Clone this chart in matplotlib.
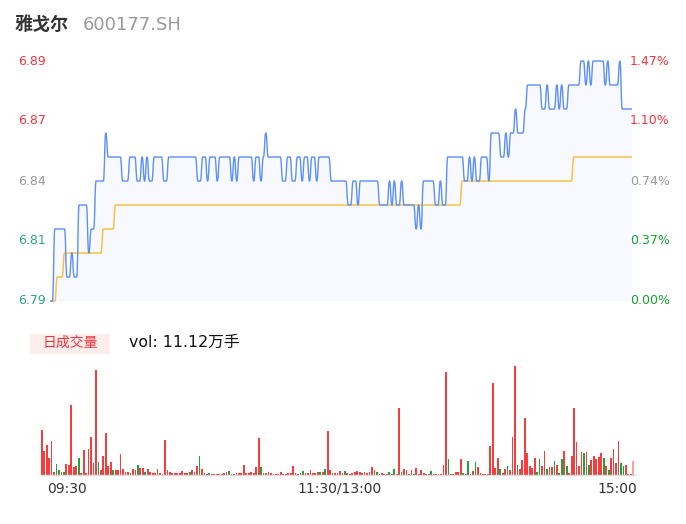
import numpy as np
import matplotlib
matplotlib.use("Agg")
import matplotlib.pyplot as plt
from matplotlib.path import Path
from matplotlib.patches import PathPatch

plt.rcParams['font.family'] = ['DejaVu Sans', 'Noto Sans CJK SC']

# 分时数据 (09:30-11:30, 13:01-15:00, 241 minutes)
prev_close = 6.79
price = [
    6.79, 6.79, 6.82, 6.82, 6.82, 6.82, 6.82, 6.80, 6.80, 6.81,
    6.80, 6.80, 6.83, 6.83, 6.83, 6.83, 6.81, 6.82, 6.82, 6.84,
    6.84, 6.84, 6.84, 6.86, 6.85, 6.85, 6.85, 6.85, 6.85, 6.85,
    6.84, 6.84, 6.84, 6.85, 6.85, 6.85, 6.84, 6.84, 6.85, 6.84,
    6.85, 6.84, 6.84, 6.85, 6.85, 6.85, 6.85, 6.84, 6.84, 6.85,
    6.85, 6.85, 6.85, 6.85, 6.85, 6.85, 6.85, 6.85, 6.85, 6.85,
    6.85, 6.84, 6.84, 6.85, 6.85, 6.84, 6.85, 6.85, 6.85, 6.84,
    6.85, 6.85, 6.85, 6.85, 6.85, 6.84, 6.85, 6.84, 6.85, 6.85,
    6.85, 6.85, 6.85, 6.85, 6.84, 6.85, 6.85, 6.84, 6.85, 6.86,
    6.85, 6.85, 6.85, 6.85, 6.85, 6.85, 6.84, 6.84, 6.85, 6.85,
    6.84, 6.84, 6.85, 6.85, 6.84, 6.85, 6.85, 6.84, 6.85, 6.85,
    6.84, 6.85, 6.85, 6.85, 6.85, 6.85, 6.84, 6.84, 6.84, 6.84,
    6.84, 6.84, 6.84, 6.83, 6.83, 6.84, 6.84, 6.83, 6.84, 6.84,
    6.84, 6.84, 6.84, 6.84, 6.84, 6.84, 6.83, 6.83, 6.83, 6.83,
    6.84, 6.83, 6.84, 6.83, 6.83, 6.84, 6.83, 6.83, 6.83, 6.83,
    6.83, 6.82, 6.83, 6.82, 6.84, 6.84, 6.84, 6.84, 6.84, 6.83,
    6.83, 6.84, 6.83, 6.83, 6.85, 6.85, 6.85, 6.85, 6.85, 6.85,
    6.85, 6.84, 6.84, 6.85, 6.84, 6.85, 6.84, 6.84, 6.85, 6.85,
    6.85, 6.84, 6.86, 6.86, 6.86, 6.86, 6.85, 6.85, 6.86, 6.85,
    6.86, 6.86, 6.87, 6.86, 6.86, 6.86, 6.87, 6.88, 6.88, 6.88,
    6.88, 6.88, 6.88, 6.87, 6.87, 6.88, 6.87, 6.87, 6.87, 6.88,
    6.87, 6.88, 6.87, 6.87, 6.88, 6.88, 6.88, 6.88, 6.88, 6.89,
    6.89, 6.88, 6.89, 6.88, 6.89, 6.89, 6.89, 6.89, 6.89, 6.88,
    6.89, 6.88, 6.88, 6.88, 6.88, 6.89, 6.87, 6.87, 6.87, 6.87,
    6.87,
]

# 均价 (runs of equal value)
avg_levels = [6.79, 6.80, 6.81, 6.82, 6.83, 6.84, 6.85]
avg_counts = [3, 3, 16, 5, 143, 46, 25]

# 成交量 (手) and colour flag: 1 up, 0 down, 2 last
vol = [
    1980, 1056, 1320, 748, 1496, 132, 484, 220, 132, 132,
    484, 440, 3080, 352, 396, 748, 88, 1100, 88, 1144,
    1672, 528, 4620, 572, 220, 836, 1848, 396, 572, 220,
    220, 220, 924, 264, 132, 132, 88, 264, 220, 440,
    308, 308, 132, 264, 132, 88, 88, 264, 88, 44,
    1540, 220, 132, 88, 88, 88, 88, 176, 88, 88,
    132, 220, 132, 396, 836, 264, 88, 44, 88, 44,
    44, 44, 44, 44, 88, 132, 176, 44, 44, 88,
    88, 88, 440, 88, 88, 132, 88, 352, 1628, 352,
    88, 88, 132, 88, 44, 44, 44, 132, 44, 44,
    88, 88, 396, 88, 44, 88, 176, 88, 88, 220,
    88, 88, 132, 132, 132, 264, 1936, 220, 88, 88,
    88, 176, 88, 176, 88, 44, 88, 132, 176, 132,
    88, 132, 88, 132, 352, 220, 132, 44, 88, 44,
    44, 132, 44, 264, 44, 2948, 132, 264, 220, 44,
    220, 44, 308, 44, 220, 88, 44, 44, 176, 44,
    44, 44, 44, 440, 4532, 704, 44, 44, 132, 132,
    704, 88, 44, 616, 44, 176, 572, 352, 88, 44,
    44, 44, 1276, 4048, 308, 748, 264, 88, 264, 396,
    220, 1672, 4796, 440, 264, 660, 2508, 968, 396, 308,
    748, 132, 704, 396, 1056, 264, 352, 352, 616, 440,
    88, 704, 1056, 396, 88, 836, 2948, 1452, 396, 1012,
    968, 1012, 440, 660, 836, 704, 792, 968, 748, 396,
    220, 748, 1144, 528, 1496, 528, 396, 440, 44, 44,
    616,
]
up = [
    1, 1, 1, 1, 1, 1, 0, 0, 1, 0,
    1, 1, 1, 1, 1, 0, 1, 1, 1, 1,
    1, 1, 1, 0, 1, 1, 1, 1, 1, 0,
    1, 1, 1, 1, 1, 1, 0, 1, 1, 0,
    1, 1, 0, 1, 1, 1, 1, 1, 1, 1,
    1, 1, 1, 1, 1, 1, 1, 1, 1, 1,
    0, 1, 1, 1, 0, 1, 1, 1, 0, 1,
    1, 1, 1, 1, 1, 1, 0, 1, 1, 1,
    1, 1, 1, 1, 1, 1, 1, 1, 1, 0,
    1, 1, 1, 1, 1, 1, 1, 1, 1, 1,
    1, 1, 1, 1, 1, 1, 0, 1, 1, 1,
    1, 1, 1, 0, 1, 0, 1, 1, 1, 1,
    1, 1, 1, 0, 1, 1, 1, 1, 1, 1,
    1, 1, 1, 1, 1, 1, 0, 1, 1, 1,
    1, 0, 1, 0, 1, 1, 0, 1, 1, 1,
    1, 0, 1, 1, 1, 1, 1, 1, 0, 1,
    1, 1, 1, 1, 1, 0, 1, 1, 1, 1,
    1, 0, 1, 0, 1, 1, 0, 1, 1, 1,
    1, 0, 1, 1, 1, 1, 0, 1, 1, 0,
    1, 1, 1, 0, 1, 1, 1, 1, 1, 1,
    1, 0, 0, 1, 1, 0, 1, 1, 0, 1,
    0, 0, 1, 0, 1, 1, 1, 1, 1, 1,
    0, 1, 0, 1, 1, 1, 1, 1, 0, 1,
    0, 1, 1, 1, 1, 0, 0, 1, 1, 1,
    2,
]

y_ticks = [6.79, 6.815, 6.84, 6.865, 6.89]
y_labels = ['6.79', '6.81', '6.84', '6.87', '6.89']
pct_labels = ['0.00%', '0.37%', '0.74%', '1.10%', '1.47%']
tick_colors = ['#2aa57d', '#2aa57d', '#999999', '#f5333f', '#f5333f']
pct_colors = ['#16a02f', '#16a02f', '#999999', '#f5333f', '#f5333f']
time_labels = ['09:30', '11:30/13:00', '15:00']

W, H = 686, 524
fig = plt.figure(figsize=(W / 100, H / 100), dpi=100)


def box(x0, y0, x1, y1):
    return [x0 / W, 1 - y1 / H, (x1 - x0) / W, (y1 - y0) / H]


def smooth(xs, ys, s=0.5):
    # cubic segments with flat tangents, like a smoothed echarts line
    verts = [(xs[0], ys[0])]
    codes = [Path.MOVETO]
    for i in range(len(xs) - 1):
        dx = xs[i + 1] - xs[i]
        verts += [(xs[i] + s * dx, ys[i]), (xs[i + 1] - s * dx, ys[i + 1]),
                  (xs[i + 1], ys[i + 1])]
        codes += [Path.CURVE4] * 3
    return verts, codes


# price panel
ax = fig.add_axes(box(50, 61, 632, 301))
x = np.arange(len(price))
avg = np.repeat(avg_levels, avg_counts)

pv, pc = smooth(x, price)
fill_path = Path(pv + [(x[-1], prev_close), (x[0], prev_close), pv[0]],
                 pc + [Path.LINETO, Path.LINETO, Path.CLOSEPOLY])
ax.add_patch(PathPatch(fill_path, facecolor='#f7f9fe', lw=0))
av, ac = smooth(x, avg)
ax.add_patch(PathPatch(Path(av, ac), fill=False, edgecolor='#f8c14a', lw=1.1,
                       clip_on=False))
ax.add_patch(PathPatch(Path(pv, pc), fill=False, edgecolor='#5b8ff9', lw=1.0,
                       clip_on=False))
ax.set_xlim(0, len(price) - 1)
ax.set_ylim(6.79, 6.89)
ax.axis('off')

for t, lab, c, plab, pcol in zip(y_ticks, y_labels, tick_colors, pct_labels, pct_colors):
    ypix = 301 - (t - 6.79) / 0.10 * 240
    fig.text(46 / W, 1 - ypix / H, lab, color=c, fontsize=9, ha='right', va='center')
    fig.text(630 / W, 1 - ypix / H, plab, color=pcol, fontsize=9, ha='left', va='center')

# volume panel
axv = fig.add_axes(box(40.5, 361, 634.5, 475))
xv = np.arange(len(vol))
bar_colors = ['#1ea03c' if u == 0 else ('#ff9c9c' if u == 2 else '#f53d3d') for u in up]
axv.bar(xv, vol, width=0.72, color=bar_colors, lw=0)
axv.set_xlim(-0.5, len(vol) - 0.5)
axv.set_ylim(0, max(vol) * 114 / 109)
axv.axis('off')
axv.axhline(0, color='#dddddd', lw=1.0, clip_on=False)

# texts
fig.text(15 / W, 1 - 25 / H, '雅戈尔', fontsize=13, color='#333333',
         weight='bold', va='center')
fig.text(83 / W, 1 - 25 / H, '600177.SH', fontsize=13, color='#999999',
         va='center')
fig.patches.append(plt.Rectangle((30 / W, 1 - 354 / H), 80 / W, 20 / H,
                                 transform=fig.transFigure, color='#fdeeeb', lw=0))
fig.text(70 / W, 1 - 343 / H, '日成交量', fontsize=10, color='#f5333f',
         ha='center', va='center')
fig.text(129 / W, 1 - 342 / H, 'vol: 11.12万手', fontsize=11.3, color='#111111',
         va='center')
for lab, xp in zip(time_labels, [67, 340, 617]):
    fig.text(xp / W, 1 - 489 / H, lab, fontsize=10, color='#333333',
             ha='center', va='center')

fig.savefig('out.png', dpi=100)
